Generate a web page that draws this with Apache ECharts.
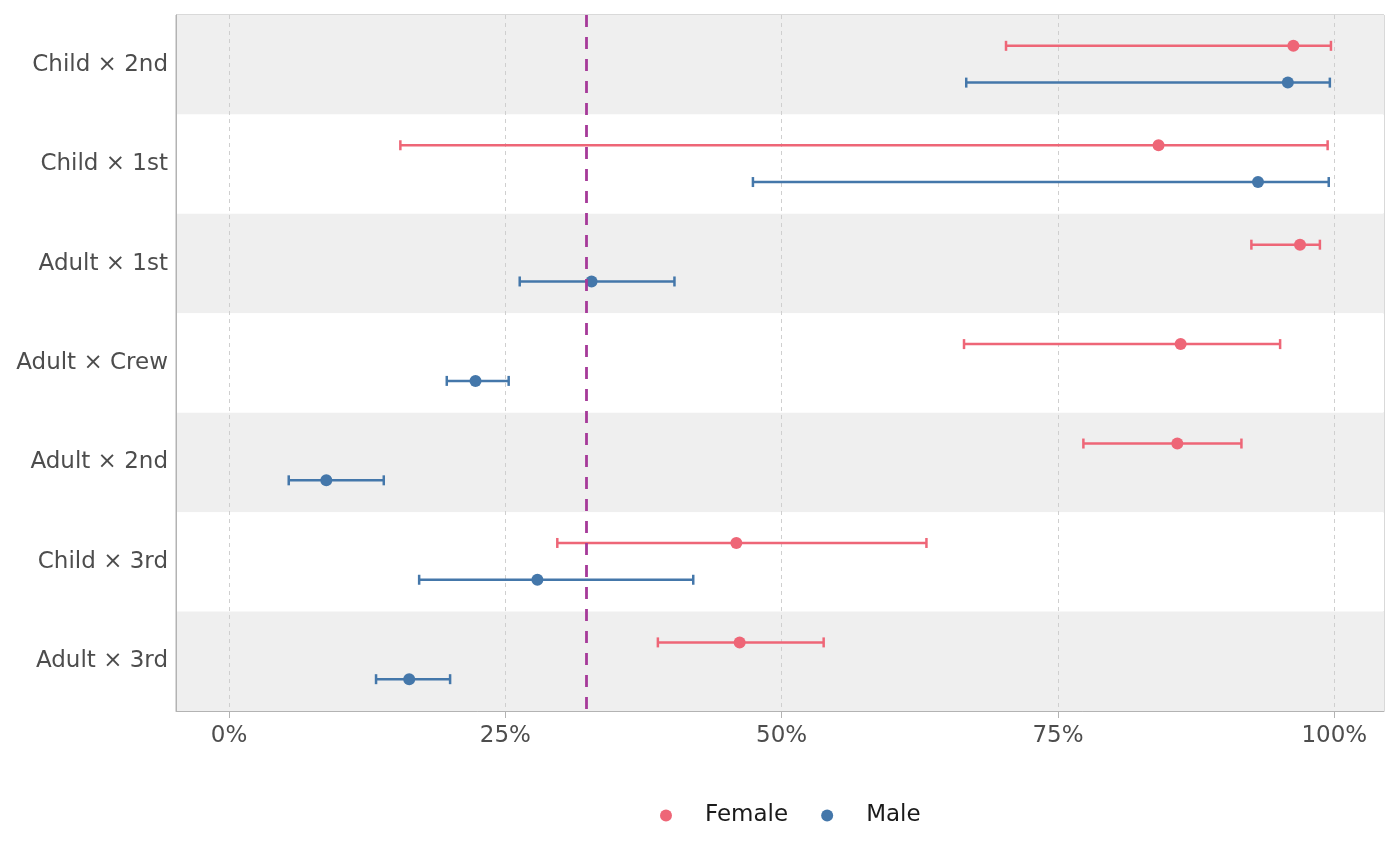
<!DOCTYPE html>
<html>
<head>
<meta charset="utf-8">
<script src="https://cdn.jsdelivr.net/npm/echarts@6/dist/echarts.min.js"></script>
<style>
  html, body { margin: 0; padding: 0; background: #fff; }
  #chart { width: 1400px; height: 866px; }
</style>
</head>
<body>
<div id="chart"></div>
<script>
// categories listed top to bottom
var categories = ['Child × 2nd', 'Child × 1st', 'Adult × 1st', 'Adult × Crew', 'Adult × 2nd', 'Child × 3rd', 'Adult × 3rd'];
var femaleRate = [0.963, 0.841, 0.969, 0.861, 0.858, 0.459, 0.462];
var femaleLow = [0.703, 0.155, 0.925, 0.665, 0.773, 0.297, 0.388];
var femaleHigh = [0.997, 0.994, 0.987, 0.951, 0.916, 0.631, 0.538];
var maleRate = [0.958, 0.931, 0.328, 0.223, 0.088, 0.279, 0.163];
var maleLow = [0.667, 0.474, 0.263, 0.197, 0.054, 0.172, 0.133];
var maleHigh = [0.996, 0.995, 0.403, 0.253, 0.140, 0.420, 0.200];
var tickValues = [0, 0.25, 0.5, 0.75, 1];
var overallRate = 0.3235;

var FONT = 'DejaVu Sans';

function rows(low, high, rate) {
  return categories.map(function (c, i) {
    return [low[i], high[i], rate[i], c];
  });
}

function renderRange(offset) {
  return function (params, api) {
    var band = api.size([0, 1])[1];
    var y = api.coord([0, api.value(3)])[1] + offset * band;
    var x0 = api.coord([api.value(0), 0])[0],
      x1 = api.coord([api.value(1), 0])[0],
      xp = api.coord([api.value(2), 0])[0],
      color = api.visual('color'),
      line = { stroke: color, lineWidth: 2.5 };
    return {
      type: 'group',
      children: [
        { type: 'line', shape: { x1: x0, y1: y, x2: x1, y2: y }, style: line },
        { type: 'line', shape: { x1: x0, y1: y - 5, x2: x0, y2: y + 5 }, style: line },
        { type: 'line', shape: { x1: x1, y1: y - 5, x2: x1, y2: y + 5 }, style: line },
        { type: 'circle', shape: { cx: xp, cy: y, r: 6 }, style: { fill: color } }
      ]
    };
  };
}

var myChart = echarts.init(document.getElementById('chart'));
var option = {
  animation: false,
  grid: {
    left: 176,
    right: 16,
    top: 15,
    bottom: 155,
    show: true,
    borderColor: '#b3b3b3',
    borderWidth: 1
  },
  legend: {
    bottom: 34,
    left: 655,
    icon: 'circle',
    itemWidth: 12,
    itemHeight: 12,
    itemGap: 33,
    textStyle: {
      fontFamily: FONT,
      fontSize: 23,
      color: '#1a1a1a',
      padding: [0, 0, 0, 28]
    },
    data: ['Female', 'Male']
  },
  xAxis: {
    type: 'value',
    min: -0.048,
    max: 1.045,
    axisLine: { show: true, lineStyle: { color: '#b3b3b3', width: 1 } },
    axisTick: {
      show: true,
      length: 7,
      customValues: tickValues,
      lineStyle: { color: '#b3b3b3', width: 1 }
    },
    axisLabel: {
      customValues: tickValues,
      margin: 14,
      fontFamily: FONT,
      fontSize: 23,
      color: '#4d4d4d',
      formatter: function (v) {
        return Math.round(v * 100) + '%';
      }
    },
    splitLine: {
      show: true,
      lineStyle: { color: '#cfcfcf', width: 1, type: [4, 4] }
    }
  },
  yAxis: {
    type: 'category',
    inverse: true,
    data: categories,
    axisLine: { show: true, onZero: false, lineStyle: { color: '#b3b3b3', width: 1 } },
    axisTick: { show: false },
    axisLabel: {
      margin: 8,
      fontFamily: FONT,
      fontSize: 23,
      color: '#4d4d4d'
    },
    splitLine: { show: false },
    splitArea: {
      show: true,
      areaStyle: { color: ['#efefef', '#ffffff'] }
    }
  },
  series: [
    {
      name: 'Female',
      type: 'custom',
      renderItem: renderRange(-0.19),
      itemStyle: { color: '#EE6677' },
      encode: { x: [0, 1, 2], y: 3 },
      data: rows(femaleLow, femaleHigh, femaleRate),
      z: 3
    },
    {
      name: 'Male',
      type: 'custom',
      renderItem: renderRange(0.18),
      itemStyle: { color: '#4477AA' },
      encode: { x: [0, 1, 2], y: 3 },
      data: rows(maleLow, maleHigh, maleRate),
      z: 3
    },
    {
      name: 'overall',
      type: 'line',
      data: [],
      z: 4,
      markLine: {
        silent: true,
        precision: 4,
        symbol: ['none', 'none'],
        label: { show: false },
        lineStyle: { color: '#A63A99', width: 2.8, type: [12, 10] },
        data: [{ xAxis: overallRate }]
      }
    }
  ]
};
myChart.setOption(option, true);
</script>
</body>
</html>
